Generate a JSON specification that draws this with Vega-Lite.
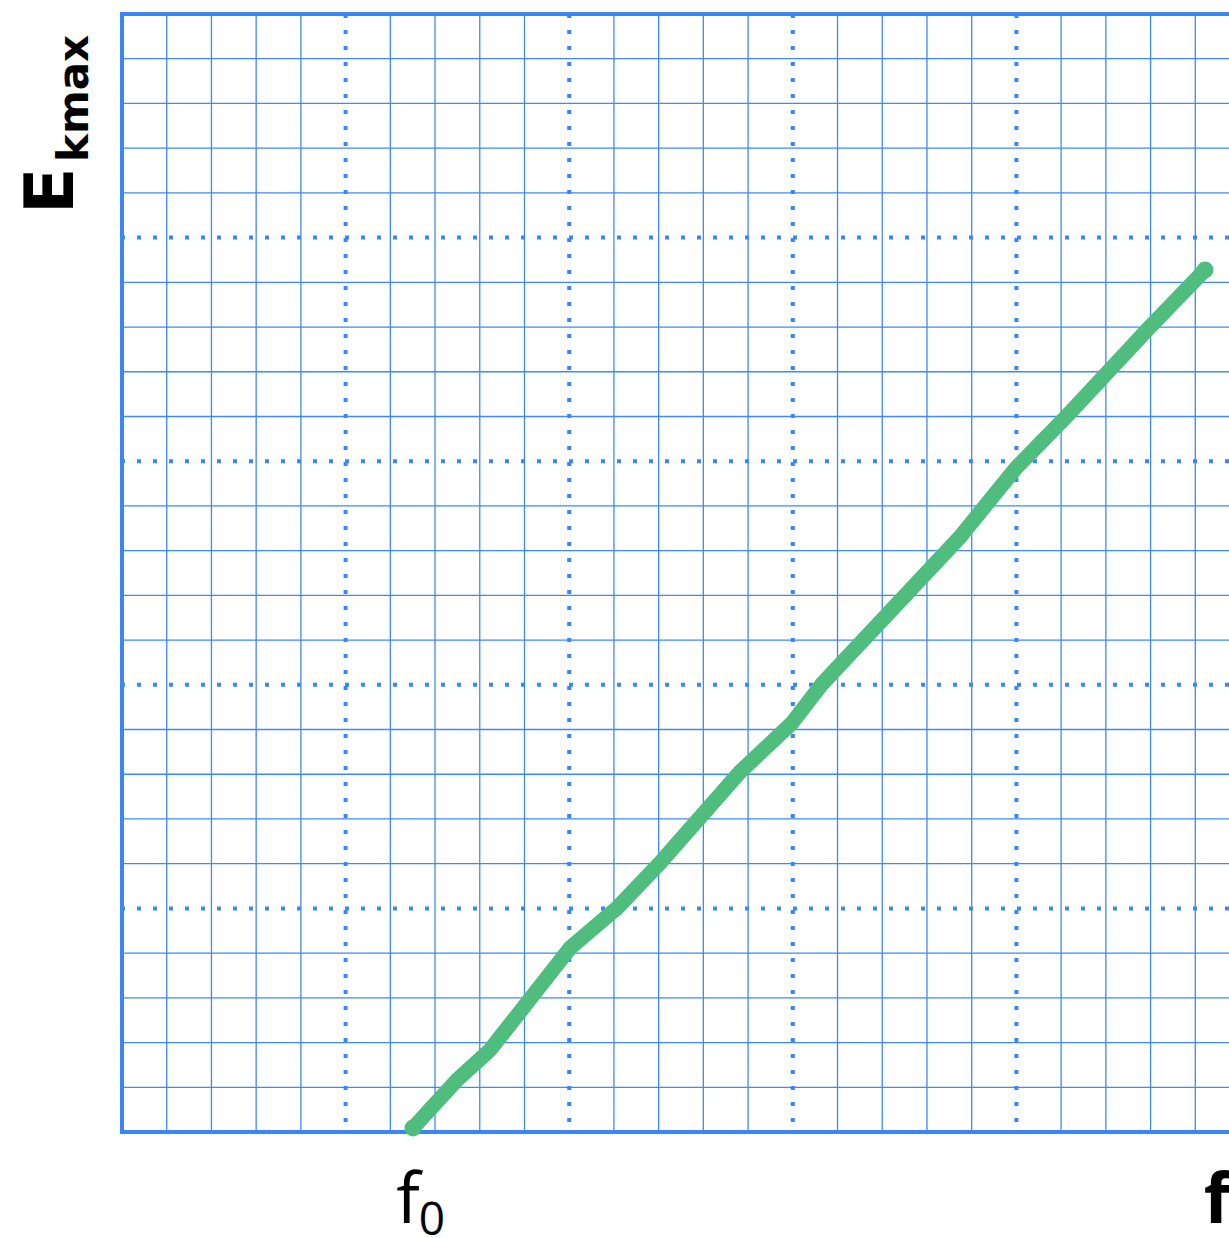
{
  "$schema": "https://vega.github.io/schema/vega-lite/v6.json",
  "width": 1107,
  "height": 1118,
  "autosize": "none",
  "padding": {"left": 122, "top": 14, "right": 0, "bottom": 106},
  "background": "white",
  "config": {"view": {"stroke": null}},
  "datasets": {
    "minorX": [{"v":1},{"v":2},{"v":3},{"v":4},{"v":6},{"v":7},{"v":8},{"v":9},{"v":11},{"v":12},{"v":13},{"v":14},{"v":16},{"v":17},{"v":18},{"v":19},{"v":21},{"v":22},{"v":23},{"v":24}],
    "minorY": [{"v":1},{"v":2},{"v":3},{"v":4},{"v":6},{"v":7},{"v":8},{"v":9},{"v":11},{"v":12},{"v":13},{"v":14},{"v":16},{"v":17},{"v":18},{"v":19},{"v":21},{"v":22},{"v":23},{"v":24}],
    "major": [{"v":5},{"v":10},{"v":15},{"v":20}],
    "curve": [
      {"f":6.507,"E":0.089},
      {"f":7.491,"E":1.163},
      {"f":8.229,"E":1.834},
      {"f":10.018,"E":4.114},
      {"f":11.069,"E":5.009},
      {"f":12.030,"E":6.015},
      {"f":13.819,"E":8.050},
      {"f":14.982,"E":9.146},
      {"f":15.653,"E":10.018},
      {"f":18.739,"E":13.305},
      {"f":19.991,"E":14.848},
      {"f":21.042,"E":15.921},
      {"f":22.987,"E":18.001},
      {"f":24.217,"E":19.275}
    ],
    "ends": [
      {"f":6.507,"E":0.089},
      {"f":24.217,"E":19.275}
    ]
  },
  "layer": [
    {
      "data": {"name": "minorX"},
      "mark": {"type": "rule", "stroke": "#3f88f5", "strokeWidth": 1.3},
      "encoding": {
        "x": {"field": "v", "type": "quantitative", "scale": {"domain": [0, 24.754], "nice": false, "zero": false}, "axis": null}
      }
    },
    {
      "data": {"name": "minorY"},
      "mark": {"type": "rule", "stroke": "#3f88f5", "strokeWidth": 1.3},
      "encoding": {
        "y": {"field": "v", "type": "quantitative", "scale": {"domain": [0, 25], "nice": false, "zero": false}, "axis": null}
      }
    },
    {
      "data": {"name": "major"},
      "mark": {"type": "rule", "stroke": "#3a86f6", "strokeWidth": 4, "strokeDash": [4, 12]},
      "encoding": {
        "x": {"field": "v", "type": "quantitative", "axis": null}
      }
    },
    {
      "data": {"name": "major"},
      "mark": {"type": "rule", "stroke": "#3a86f6", "strokeWidth": 4, "strokeDash": [4, 12]},
      "encoding": {
        "y": {"field": "v", "type": "quantitative", "axis": null}
      }
    },
    {
      "data": {"values": [{"v": 0}]},
      "mark": {"type": "rule", "stroke": "#3a86f6", "strokeWidth": 4, "strokeCap": "square"},
      "encoding": {"x": {"field": "v", "type": "quantitative", "axis": null}}
    },
    {
      "data": {"values": [{"v": 0}, {"v": 25}]},
      "mark": {"type": "rule", "stroke": "#3a86f6", "strokeWidth": 4, "strokeCap": "square"},
      "encoding": {"y": {"field": "v", "type": "quantitative", "axis": null}}
    },
    {
      "data": {"name": "curve"},
      "mark": {"type": "line", "stroke": "#4fbd7e", "strokeWidth": 15, "strokeCap": "round", "strokeJoin": "round", "interpolate": "linear"},
      "encoding": {
        "x": {"field": "f", "type": "quantitative", "axis": null},
        "y": {"field": "E", "type": "quantitative", "axis": null},
        "order": {"field": "f", "type": "quantitative"}
      }
    },
    {
      "data": {"name": "ends"},
      "mark": {"type": "circle", "color": "#4fbd7e", "opacity": 1, "size": 290},
      "encoding": {
        "x": {"field": "f", "type": "quantitative", "axis": null},
        "y": {"field": "E", "type": "quantitative", "axis": null}
      }
    },
    {
      "data": {"values": [{"t": "f", "x": 6.395, "y": -2.035}]},
      "mark": {"type": "text", "font": "Open Sans", "fontSize": 70, "align": "center", "baseline": "alphabetic", "color": "black"},
      "encoding": {
        "x": {"field": "x", "type": "quantitative", "axis": null},
        "y": {"field": "y", "type": "quantitative", "axis": null},
        "text": {"field": "t"}
      }
    },
    {
      "data": {"values": [{"t": "0", "x": 6.93, "y": -2.30}]},
      "mark": {"type": "text", "font": "Open Sans", "fontSize": 46, "align": "center", "baseline": "alphabetic", "color": "black"},
      "encoding": {
        "x": {"field": "x", "type": "quantitative", "axis": null},
        "y": {"field": "y", "type": "quantitative", "axis": null},
        "text": {"field": "t"}
      }
    },
    {
      "data": {"values": [{"t": "f", "x": 24.19, "y": -2.035}]},
      "mark": {"type": "text", "font": "Open Sans", "fontWeight": "bold", "fontSize": 70, "align": "left", "baseline": "alphabetic", "color": "black"},
      "encoding": {
        "x": {"field": "x", "type": "quantitative", "axis": null},
        "y": {"field": "y", "type": "quantitative", "axis": null},
        "text": {"field": "t"}
      }
    },
    {
      "data": {"values": [{"t": "E", "x": -1.096, "y": 20.53}]},
      "mark": {"type": "text", "font": "DejaVu Sans", "fontWeight": "bold", "fontSize": 68, "angle": 270, "align": "left", "baseline": "alphabetic", "color": "black"},
      "encoding": {
        "x": {"field": "x", "type": "quantitative", "axis": null},
        "y": {"field": "y", "type": "quantitative", "axis": null},
        "text": {"field": "t"}
      }
    },
    {
      "data": {"values": [{"t": "kmax", "x": -0.76, "y": 21.69}]},
      "mark": {"type": "text", "font": "DejaVu Sans", "fontWeight": "bold", "fontSize": 42, "angle": 270, "align": "left", "baseline": "alphabetic", "color": "black"},
      "encoding": {
        "x": {"field": "x", "type": "quantitative", "axis": null},
        "y": {"field": "y", "type": "quantitative", "axis": null},
        "text": {"field": "t"}
      }
    }
  ]
}
